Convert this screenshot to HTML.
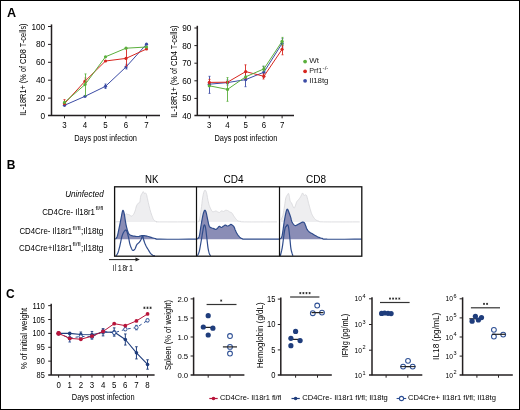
<!DOCTYPE html><html><head><meta charset="utf-8"><style>html,body{margin:0;padding:0;background:#fff;}svg{display:block;will-change:transform;font-variant-ligatures:none;font-family:"Liberation Sans", sans-serif;}</style></head><body>
<svg width="520" height="410" viewBox="0 0 520 410">
<rect x="0.5" y="0.5" width="519" height="409" fill="#fff" stroke="#000" stroke-width="1"/>
<text x="6.9" y="16.6" font-size="12.6" fill="#000" font-weight="bold" >A</text>
<text x="6.8" y="168.7" font-size="12.0" fill="#000" font-weight="bold" >B</text>
<text x="6.0" y="298.1" font-size="12.0" fill="#000" font-weight="bold" >C</text>
<line x1="51.5" y1="24.4" x2="51.5" y2="116" stroke="#231f20" stroke-width="1.5" />
<line x1="48" y1="115.6" x2="160" y2="115.6" stroke="#231f20" stroke-width="1.5" />
<line x1="48" y1="26.5" x2="51.5" y2="26.5" stroke="#231f20" stroke-width="1" />
<text x="45.2" y="29.5" font-size="9.4" text-anchor="end" textLength="13.799999999999999" lengthAdjust="spacingAndGlyphs" >100</text>
<line x1="48" y1="44.400000000000006" x2="51.5" y2="44.400000000000006" stroke="#231f20" stroke-width="1" />
<text x="45.2" y="47.400000000000006" font-size="9.4" text-anchor="end" textLength="9.2" lengthAdjust="spacingAndGlyphs" >80</text>
<line x1="48" y1="62.3" x2="51.5" y2="62.3" stroke="#231f20" stroke-width="1" />
<text x="45.2" y="65.3" font-size="9.4" text-anchor="end" textLength="9.2" lengthAdjust="spacingAndGlyphs" >60</text>
<line x1="48" y1="80.2" x2="51.5" y2="80.2" stroke="#231f20" stroke-width="1" />
<text x="45.2" y="83.2" font-size="9.4" text-anchor="end" textLength="9.2" lengthAdjust="spacingAndGlyphs" >40</text>
<line x1="48" y1="98.1" x2="51.5" y2="98.1" stroke="#231f20" stroke-width="1" />
<text x="45.2" y="101.1" font-size="9.4" text-anchor="end" textLength="9.2" lengthAdjust="spacingAndGlyphs" >20</text>
<text x="45.2" y="119.0" font-size="9.4" text-anchor="end" textLength="4.6" lengthAdjust="spacingAndGlyphs" >0</text>
<line x1="64.5" y1="115.6" x2="64.5" y2="118.3" stroke="#231f20" stroke-width="1" />
<text x="64.5" y="128.3" font-size="9.6" text-anchor="middle" textLength="4.4" lengthAdjust="spacingAndGlyphs" >3</text>
<line x1="85.0" y1="115.6" x2="85.0" y2="118.3" stroke="#231f20" stroke-width="1" />
<text x="85.0" y="128.3" font-size="9.6" text-anchor="middle" textLength="4.4" lengthAdjust="spacingAndGlyphs" >4</text>
<line x1="105.5" y1="115.6" x2="105.5" y2="118.3" stroke="#231f20" stroke-width="1" />
<text x="105.5" y="128.3" font-size="9.6" text-anchor="middle" textLength="4.4" lengthAdjust="spacingAndGlyphs" >5</text>
<line x1="126.0" y1="115.6" x2="126.0" y2="118.3" stroke="#231f20" stroke-width="1" />
<text x="126.0" y="128.3" font-size="9.6" text-anchor="middle" textLength="4.4" lengthAdjust="spacingAndGlyphs" >6</text>
<line x1="146.5" y1="115.6" x2="146.5" y2="118.3" stroke="#231f20" stroke-width="1" />
<text x="146.5" y="128.3" font-size="9.6" text-anchor="middle" textLength="4.4" lengthAdjust="spacingAndGlyphs" >7</text>
<text x="74.2" y="141.3" font-size="9.6" textLength="62.8" lengthAdjust="spacingAndGlyphs" >Days post infection</text>
<text x="0" y="0" font-size="9.3" text-anchor="middle" transform="translate(26.1,69.6) rotate(-90)" textLength="92.3" lengthAdjust="spacingAndGlyphs">IL-18R1+ (% of CD8 T-cells)</text>
<polyline points="64.50,105.30 85.00,96.30 105.50,86.30 126.00,67.00 146.50,44.20" fill="none" stroke="#3b4ba5" stroke-width="1.0" stroke-linejoin="round" />
<line x1="105.5" y1="84.0" x2="105.5" y2="88.5" stroke="#3b4ba5" stroke-width="0.9" />
<line x1="104.5" y1="84.0" x2="106.5" y2="84.0" stroke="#3b4ba5" stroke-width="0.8" />
<line x1="104.5" y1="88.5" x2="106.5" y2="88.5" stroke="#3b4ba5" stroke-width="0.8" />
<line x1="126.5" y1="64.3" x2="126.5" y2="69.0" stroke="#3b4ba5" stroke-width="0.9" />
<line x1="125.5" y1="64.3" x2="127.5" y2="64.3" stroke="#3b4ba5" stroke-width="0.8" />
<line x1="125.5" y1="69.0" x2="127.5" y2="69.0" stroke="#3b4ba5" stroke-width="0.8" />
<circle cx="64.50" cy="105.30" r="1.6" fill="#3b4ba5"/>
<circle cx="85.00" cy="96.30" r="1.6" fill="#3b4ba5"/>
<circle cx="105.50" cy="86.30" r="1.6" fill="#3b4ba5"/>
<circle cx="126.00" cy="67.00" r="1.6" fill="#3b4ba5"/>
<circle cx="146.50" cy="44.20" r="1.6" fill="#3b4ba5"/>
<polyline points="64.50,103.60 85.00,81.20 105.50,61.00 126.00,58.40 146.50,49.00" fill="none" stroke="#d7261f" stroke-width="1.0" stroke-linejoin="round" />
<line x1="64.5" y1="99.6" x2="64.5" y2="104" stroke="#d7261f" stroke-width="0.9" />
<line x1="63.5" y1="99.6" x2="65.5" y2="99.6" stroke="#d7261f" stroke-width="0.8" />
<line x1="63.5" y1="104" x2="65.5" y2="104" stroke="#d7261f" stroke-width="0.8" />
<line x1="85.5" y1="78" x2="85.5" y2="84" stroke="#d7261f" stroke-width="0.9" />
<line x1="84.5" y1="78" x2="86.5" y2="78" stroke="#d7261f" stroke-width="0.8" />
<line x1="84.5" y1="84" x2="86.5" y2="84" stroke="#d7261f" stroke-width="0.8" />
<line x1="126.5" y1="48.2" x2="126.5" y2="66.0" stroke="#d7261f" stroke-width="0.9" />
<line x1="125.5" y1="48.2" x2="127.5" y2="48.2" stroke="#d7261f" stroke-width="0.8" />
<line x1="125.5" y1="66.0" x2="127.5" y2="66.0" stroke="#d7261f" stroke-width="0.8" />
<circle cx="64.50" cy="103.60" r="1.6" fill="#d7261f"/>
<circle cx="85.00" cy="81.20" r="1.6" fill="#d7261f"/>
<circle cx="105.50" cy="61.00" r="1.6" fill="#d7261f"/>
<circle cx="126.00" cy="58.40" r="1.6" fill="#d7261f"/>
<circle cx="146.50" cy="49.00" r="1.6" fill="#d7261f"/>
<polyline points="64.50,102.40 85.00,84.60 105.50,56.80 126.00,48.20 146.50,47.00" fill="none" stroke="#5aaf3c" stroke-width="1.0" stroke-linejoin="round" />
<line x1="85.5" y1="73.9" x2="85.5" y2="95.6" stroke="#5aaf3c" stroke-width="0.9" />
<line x1="84.5" y1="73.9" x2="86.5" y2="73.9" stroke="#5aaf3c" stroke-width="0.8" />
<line x1="84.5" y1="95.6" x2="86.5" y2="95.6" stroke="#5aaf3c" stroke-width="0.8" />
<circle cx="64.50" cy="102.40" r="1.6" fill="#5aaf3c"/>
<circle cx="85.00" cy="84.60" r="1.6" fill="#5aaf3c"/>
<circle cx="105.50" cy="56.80" r="1.6" fill="#5aaf3c"/>
<circle cx="126.00" cy="48.20" r="1.6" fill="#5aaf3c"/>
<circle cx="146.50" cy="47.00" r="1.6" fill="#5aaf3c"/>
<line x1="197.3" y1="25.8" x2="197.3" y2="115.7" stroke="#231f20" stroke-width="1.5" />
<line x1="194.4" y1="115.6" x2="294" y2="115.6" stroke="#231f20" stroke-width="1.5" />
<line x1="194.4" y1="28.0" x2="197.3" y2="28.0" stroke="#231f20" stroke-width="1" />
<text x="191.4" y="31.0" font-size="9.4" text-anchor="end" textLength="9.2" lengthAdjust="spacingAndGlyphs" >90</text>
<line x1="194.4" y1="45.599999999999994" x2="197.3" y2="45.599999999999994" stroke="#231f20" stroke-width="1" />
<text x="191.4" y="48.599999999999994" font-size="9.4" text-anchor="end" textLength="9.2" lengthAdjust="spacingAndGlyphs" >80</text>
<line x1="194.4" y1="63.2" x2="197.3" y2="63.2" stroke="#231f20" stroke-width="1" />
<text x="191.4" y="66.2" font-size="9.4" text-anchor="end" textLength="9.2" lengthAdjust="spacingAndGlyphs" >70</text>
<line x1="194.4" y1="80.8" x2="197.3" y2="80.8" stroke="#231f20" stroke-width="1" />
<text x="191.4" y="83.8" font-size="9.4" text-anchor="end" textLength="9.2" lengthAdjust="spacingAndGlyphs" >60</text>
<line x1="194.4" y1="98.4" x2="197.3" y2="98.4" stroke="#231f20" stroke-width="1" />
<text x="191.4" y="101.4" font-size="9.4" text-anchor="end" textLength="9.2" lengthAdjust="spacingAndGlyphs" >50</text>
<text x="191.4" y="119.0" font-size="9.4" text-anchor="end" textLength="9.2" lengthAdjust="spacingAndGlyphs" >40</text>
<line x1="209.3" y1="115.6" x2="209.3" y2="118.3" stroke="#231f20" stroke-width="1" />
<text x="209.3" y="128.3" font-size="9.6" text-anchor="middle" textLength="4.4" lengthAdjust="spacingAndGlyphs" >3</text>
<line x1="227.5" y1="115.6" x2="227.5" y2="118.3" stroke="#231f20" stroke-width="1" />
<text x="227.5" y="128.3" font-size="9.6" text-anchor="middle" textLength="4.4" lengthAdjust="spacingAndGlyphs" >4</text>
<line x1="245.7" y1="115.6" x2="245.7" y2="118.3" stroke="#231f20" stroke-width="1" />
<text x="245.7" y="128.3" font-size="9.6" text-anchor="middle" textLength="4.4" lengthAdjust="spacingAndGlyphs" >5</text>
<line x1="263.9" y1="115.6" x2="263.9" y2="118.3" stroke="#231f20" stroke-width="1" />
<text x="263.9" y="128.3" font-size="9.6" text-anchor="middle" textLength="4.4" lengthAdjust="spacingAndGlyphs" >6</text>
<line x1="282.1" y1="115.6" x2="282.1" y2="118.3" stroke="#231f20" stroke-width="1" />
<text x="282.1" y="128.3" font-size="9.6" text-anchor="middle" textLength="4.4" lengthAdjust="spacingAndGlyphs" >7</text>
<text x="214.5" y="141.3" font-size="9.6" textLength="62.8" lengthAdjust="spacingAndGlyphs" >Days post infection</text>
<text x="0" y="0" font-size="9.3" text-anchor="middle" transform="translate(176.6,71.6) rotate(-90)" textLength="92.3" lengthAdjust="spacingAndGlyphs">IL-18R1+ (% of CD4 T-cells)</text>
<polyline points="209.30,84.20 227.50,82.60 245.70,79.60 263.90,72.20 282.10,43.40" fill="none" stroke="#3b4ba5" stroke-width="1.0" stroke-linejoin="round" />
<line x1="209.5" y1="76.3" x2="209.5" y2="93.4" stroke="#3b4ba5" stroke-width="0.9" />
<line x1="208.5" y1="76.3" x2="210.5" y2="76.3" stroke="#3b4ba5" stroke-width="0.8" />
<line x1="208.5" y1="93.4" x2="210.5" y2="93.4" stroke="#3b4ba5" stroke-width="0.8" />
<line x1="227.5" y1="80" x2="227.5" y2="85" stroke="#3b4ba5" stroke-width="0.9" />
<line x1="226.5" y1="80" x2="228.5" y2="80" stroke="#3b4ba5" stroke-width="0.8" />
<line x1="226.5" y1="85" x2="228.5" y2="85" stroke="#3b4ba5" stroke-width="0.8" />
<line x1="245.5" y1="72.5" x2="245.5" y2="86.7" stroke="#3b4ba5" stroke-width="0.9" />
<line x1="244.5" y1="72.5" x2="246.5" y2="72.5" stroke="#3b4ba5" stroke-width="0.8" />
<line x1="244.5" y1="86.7" x2="246.5" y2="86.7" stroke="#3b4ba5" stroke-width="0.8" />
<line x1="263.5" y1="66.3" x2="263.5" y2="77" stroke="#3b4ba5" stroke-width="0.9" />
<line x1="262.5" y1="66.3" x2="264.5" y2="66.3" stroke="#3b4ba5" stroke-width="0.8" />
<line x1="262.5" y1="77" x2="264.5" y2="77" stroke="#3b4ba5" stroke-width="0.8" />
<line x1="282.5" y1="38.7" x2="282.5" y2="47" stroke="#3b4ba5" stroke-width="0.9" />
<line x1="281.5" y1="38.7" x2="283.5" y2="38.7" stroke="#3b4ba5" stroke-width="0.8" />
<line x1="281.5" y1="47" x2="283.5" y2="47" stroke="#3b4ba5" stroke-width="0.8" />
<circle cx="209.30" cy="84.20" r="1.6" fill="#3b4ba5"/>
<circle cx="227.50" cy="82.60" r="1.6" fill="#3b4ba5"/>
<circle cx="245.70" cy="79.60" r="1.6" fill="#3b4ba5"/>
<circle cx="263.90" cy="72.20" r="1.6" fill="#3b4ba5"/>
<circle cx="282.10" cy="43.40" r="1.6" fill="#3b4ba5"/>
<polyline points="209.30,82.40 227.50,82.20 245.70,71.60 263.90,76.30 282.10,49.30" fill="none" stroke="#d7261f" stroke-width="1.0" stroke-linejoin="round" />
<line x1="209.5" y1="79.4" x2="209.5" y2="85.5" stroke="#d7261f" stroke-width="0.9" />
<line x1="208.5" y1="79.4" x2="210.5" y2="79.4" stroke="#d7261f" stroke-width="0.8" />
<line x1="208.5" y1="85.5" x2="210.5" y2="85.5" stroke="#d7261f" stroke-width="0.8" />
<line x1="245.5" y1="64.8" x2="245.5" y2="78.5" stroke="#d7261f" stroke-width="0.9" />
<line x1="244.5" y1="64.8" x2="246.5" y2="64.8" stroke="#d7261f" stroke-width="0.8" />
<line x1="244.5" y1="78.5" x2="246.5" y2="78.5" stroke="#d7261f" stroke-width="0.8" />
<line x1="263.5" y1="74" x2="263.5" y2="79" stroke="#d7261f" stroke-width="0.9" />
<line x1="262.5" y1="74" x2="264.5" y2="74" stroke="#d7261f" stroke-width="0.8" />
<line x1="262.5" y1="79" x2="264.5" y2="79" stroke="#d7261f" stroke-width="0.8" />
<line x1="282.5" y1="45.4" x2="282.5" y2="54.8" stroke="#d7261f" stroke-width="0.9" />
<line x1="281.5" y1="45.4" x2="283.5" y2="45.4" stroke="#d7261f" stroke-width="0.8" />
<line x1="281.5" y1="54.8" x2="283.5" y2="54.8" stroke="#d7261f" stroke-width="0.8" />
<circle cx="209.30" cy="82.40" r="1.6" fill="#d7261f"/>
<circle cx="227.50" cy="82.20" r="1.6" fill="#d7261f"/>
<circle cx="245.70" cy="71.60" r="1.6" fill="#d7261f"/>
<circle cx="263.90" cy="76.30" r="1.6" fill="#d7261f"/>
<circle cx="282.10" cy="49.30" r="1.6" fill="#d7261f"/>
<polyline points="209.30,85.80 227.50,89.40 245.70,76.80 263.90,68.90 282.10,41.30" fill="none" stroke="#5aaf3c" stroke-width="1.0" stroke-linejoin="round" />
<line x1="227.5" y1="77.6" x2="227.5" y2="101.3" stroke="#5aaf3c" stroke-width="0.9" />
<line x1="226.5" y1="77.6" x2="228.5" y2="77.6" stroke="#5aaf3c" stroke-width="0.8" />
<line x1="226.5" y1="101.3" x2="228.5" y2="101.3" stroke="#5aaf3c" stroke-width="0.8" />
<line x1="263.5" y1="66.2" x2="263.5" y2="71" stroke="#5aaf3c" stroke-width="0.9" />
<line x1="262.5" y1="66.2" x2="264.5" y2="66.2" stroke="#5aaf3c" stroke-width="0.8" />
<line x1="262.5" y1="71" x2="264.5" y2="71" stroke="#5aaf3c" stroke-width="0.8" />
<line x1="282.5" y1="37.4" x2="282.5" y2="45" stroke="#5aaf3c" stroke-width="0.9" />
<line x1="281.5" y1="37.4" x2="283.5" y2="37.4" stroke="#5aaf3c" stroke-width="0.8" />
<line x1="281.5" y1="45" x2="283.5" y2="45" stroke="#5aaf3c" stroke-width="0.8" />
<circle cx="209.30" cy="85.80" r="1.6" fill="#5aaf3c"/>
<circle cx="227.50" cy="89.40" r="1.6" fill="#5aaf3c"/>
<circle cx="245.70" cy="76.80" r="1.6" fill="#5aaf3c"/>
<circle cx="263.90" cy="68.90" r="1.6" fill="#5aaf3c"/>
<circle cx="282.10" cy="41.30" r="1.6" fill="#5aaf3c"/>
<circle cx="305.10" cy="61.60" r="1.9" fill="#5aaf3c"/>
<circle cx="305.10" cy="71.30" r="1.9" fill="#d7261f"/>
<circle cx="305.10" cy="80.80" r="1.9" fill="#3b4ba5"/>
<text x="309.2" y="63.3" font-size="8.0" fill="#222" >Wt</text>
<text x="309.2" y="73.0" font-size="8.0" textLength="13.1" lengthAdjust="spacingAndGlyphs" fill="#222" >Prf1</text>
<text x="322.6" y="70.4" font-size="5.4" textLength="5.8" lengthAdjust="spacingAndGlyphs" fill="#222" >-/-</text>
<text x="309.2" y="82.7" font-size="8.0" textLength="19.3" lengthAdjust="spacingAndGlyphs" fill="#222" >Il18tg</text>
<text x="103.8" y="197.1" font-size="8.2" text-anchor="end" textLength="38.6" lengthAdjust="spacingAndGlyphs" font-style="italic" >Uninfected</text>
<text x="95.0" y="214.9" font-size="8.2" text-anchor="end" textLength="52.8" lengthAdjust="spacingAndGlyphs" >CD4Cre- Il18r1</text>
<text x="95.5" y="210.3" font-size="5.3" textLength="8.0" lengthAdjust="spacingAndGlyphs" >fl/fl</text>
<text x="19.4" y="234.3" font-size="8.2" textLength="52.8" lengthAdjust="spacingAndGlyphs" >CD4Cre- Il18r1</text>
<text x="72.6" y="229.6" font-size="5.3" textLength="8.0" lengthAdjust="spacingAndGlyphs" >fl/fl</text>
<text x="81.0" y="234.3" font-size="8.2" textLength="22.4" lengthAdjust="spacingAndGlyphs" >;Il18tg</text>
<text x="19.0" y="250.9" font-size="8.2" textLength="53.4" lengthAdjust="spacingAndGlyphs" >CD4Cre+Il18r1</text>
<text x="72.6" y="246.2" font-size="5.3" textLength="8.0" lengthAdjust="spacingAndGlyphs" >fl/fl</text>
<text x="81.0" y="250.9" font-size="8.2" textLength="22.4" lengthAdjust="spacingAndGlyphs" >;Il18tg</text>
<text x="145.0" y="182.5" font-size="10.8" textLength="13.4" lengthAdjust="spacingAndGlyphs" >NK</text>
<text x="223.6" y="182.5" font-size="10.8" textLength="20.0" lengthAdjust="spacingAndGlyphs" >CD4</text>
<text x="306.1" y="182.5" font-size="10.8" textLength="20.0" lengthAdjust="spacingAndGlyphs" >CD8</text>
<path d="M115.40,221.90 L116.06,221.87 L117.01,221.82 L118.06,221.75 L119.00,221.60 L119.80,221.44 L120.57,221.26 L121.30,220.95 L122.00,220.40 L122.68,219.47 L123.33,218.26 L123.94,217.02 L124.50,216.00 L125.02,215.23 L125.49,214.59 L125.92,214.11 L126.30,213.80 L126.59,213.74 L126.80,213.89 L127.01,214.12 L127.30,214.30 L127.68,214.38 L128.12,214.44 L128.60,214.53 L129.10,214.70 L129.65,215.05 L130.24,215.51 L130.84,215.92 L131.40,216.10 L131.91,216.00 L132.38,215.72 L132.84,215.28 L133.30,214.70 L133.77,213.97 L134.23,213.08 L134.68,212.08 L135.10,211.00 L135.47,209.77 L135.79,208.39 L136.12,207.05 L136.50,205.90 L136.95,204.99 L137.45,204.24 L137.95,203.61 L138.40,203.10 L138.80,202.86 L139.16,202.85 L139.50,202.74 L139.80,202.20 L140.04,200.99 L140.24,199.34 L140.44,197.62 L140.70,196.20 L141.07,195.16 L141.50,194.31 L141.93,193.61 L142.30,193.00 L142.57,192.45 L142.78,191.99 L142.97,191.68 L143.20,191.60 L143.47,191.87 L143.77,192.42 L144.08,193.02 L144.40,193.40 L144.75,193.44 L145.12,193.28 L145.48,193.14 L145.80,193.20 L146.06,193.50 L146.28,193.95 L146.48,194.55 L146.70,195.30 L146.94,196.25 L147.17,197.38 L147.43,198.62 L147.70,199.90 L148.00,201.23 L148.32,202.64 L148.66,204.08 L149.00,205.50 L149.33,206.88 L149.66,208.25 L150.01,209.62 L150.40,211.00 L150.84,212.44 L151.33,213.91 L151.82,215.33 L152.30,216.60 L152.73,217.71 L153.14,218.71 L153.58,219.58 L154.10,220.30 L154.73,220.84 L155.44,221.22 L156.18,221.49 L156.90,221.70 L156.83,221.84 L156.26,221.89 L156.70,221.89 L159.70,221.90 L167.11,221.91 L177.62,221.91 L188.05,221.90 L195.20,221.90 L195.20,221.9 L115.40,221.9 Z" fill="#eeeef0" stroke="none"/>
<path d="M115.40,221.90 L116.06,221.87 L117.01,221.82 L118.06,221.75 L119.00,221.60 L119.80,221.44 L120.57,221.26 L121.30,220.95 L122.00,220.40 L122.68,219.47 L123.33,218.26 L123.94,217.02 L124.50,216.00 L125.02,215.23 L125.49,214.59 L125.92,214.11 L126.30,213.80 L126.59,213.74 L126.80,213.89 L127.01,214.12 L127.30,214.30 L127.68,214.38 L128.12,214.44 L128.60,214.53 L129.10,214.70 L129.65,215.05 L130.24,215.51 L130.84,215.92 L131.40,216.10 L131.91,216.00 L132.38,215.72 L132.84,215.28 L133.30,214.70 L133.77,213.97 L134.23,213.08 L134.68,212.08 L135.10,211.00 L135.47,209.77 L135.79,208.39 L136.12,207.05 L136.50,205.90 L136.95,204.99 L137.45,204.24 L137.95,203.61 L138.40,203.10 L138.80,202.86 L139.16,202.85 L139.50,202.74 L139.80,202.20 L140.04,200.99 L140.24,199.34 L140.44,197.62 L140.70,196.20 L141.07,195.16 L141.50,194.31 L141.93,193.61 L142.30,193.00 L142.57,192.45 L142.78,191.99 L142.97,191.68 L143.20,191.60 L143.47,191.87 L143.77,192.42 L144.08,193.02 L144.40,193.40 L144.75,193.44 L145.12,193.28 L145.48,193.14 L145.80,193.20 L146.06,193.50 L146.28,193.95 L146.48,194.55 L146.70,195.30 L146.94,196.25 L147.17,197.38 L147.43,198.62 L147.70,199.90 L148.00,201.23 L148.32,202.64 L148.66,204.08 L149.00,205.50 L149.33,206.88 L149.66,208.25 L150.01,209.62 L150.40,211.00 L150.84,212.44 L151.33,213.91 L151.82,215.33 L152.30,216.60 L152.73,217.71 L153.14,218.71 L153.58,219.58 L154.10,220.30 L154.73,220.84 L155.44,221.22 L156.18,221.49 L156.90,221.70 L156.83,221.84 L156.26,221.89 L156.70,221.89 L159.70,221.90 L167.11,221.91 L177.62,221.91 L188.05,221.90 L195.20,221.90" fill="none" stroke="#d6d6d9" stroke-width="0.8" stroke-linejoin="round"/>
<path d="M115.30,239.20 L115.64,238.85 L116.13,238.37 L116.68,237.63 L117.20,236.50 L117.67,234.85 L118.15,232.78 L118.63,230.49 L119.10,228.20 L119.59,225.84 L120.09,223.33 L120.57,220.89 L121.00,218.70 L121.36,216.78 L121.66,215.02 L121.94,213.51 L122.20,212.30 L122.44,211.39 L122.66,210.75 L122.87,210.41 L123.10,210.40 L123.36,210.74 L123.63,211.41 L123.91,212.37 L124.20,213.60 L124.49,215.22 L124.79,217.20 L125.09,219.28 L125.40,221.20 L125.70,222.90 L126.01,224.52 L126.33,226.08 L126.70,227.60 L127.12,229.16 L127.58,230.72 L128.07,232.14 L128.60,233.30 L129.17,234.11 L129.77,234.66 L130.41,235.05 L131.10,235.40 L131.84,235.70 L132.62,235.91 L133.44,236.07 L134.30,236.20 L135.21,236.34 L136.16,236.46 L137.14,236.52 L138.10,236.50 L139.06,236.33 L140.04,236.06 L140.99,235.78 L141.90,235.60 L142.74,235.56 L143.54,235.60 L144.31,235.69 L145.10,235.80 L145.89,235.93 L146.66,236.09 L147.46,236.28 L148.30,236.50 L149.21,236.77 L150.16,237.08 L151.14,237.40 L152.10,237.70 L153.05,237.98 L154.00,238.24 L154.95,238.49 L155.90,238.70 L156.08,238.87 L155.74,239.01 L156.43,239.12 L159.70,239.20 L167.44,239.24 L178.34,239.23 L189.11,239.21 L196.50,239.20 L196.50,239.2 L115.30,239.2 Z" fill="#8a8db6" stroke="none"/>
<path d="M115.30,239.20 L115.64,238.85 L116.13,238.37 L116.68,237.63 L117.20,236.50 L117.67,234.85 L118.15,232.78 L118.63,230.49 L119.10,228.20 L119.59,225.84 L120.09,223.33 L120.57,220.89 L121.00,218.70 L121.36,216.78 L121.66,215.02 L121.94,213.51 L122.20,212.30 L122.44,211.39 L122.66,210.75 L122.87,210.41 L123.10,210.40 L123.36,210.74 L123.63,211.41 L123.91,212.37 L124.20,213.60 L124.49,215.22 L124.79,217.20 L125.09,219.28 L125.40,221.20 L125.70,222.90 L126.01,224.52 L126.33,226.08 L126.70,227.60 L127.12,229.16 L127.58,230.72 L128.07,232.14 L128.60,233.30 L129.17,234.11 L129.77,234.66 L130.41,235.05 L131.10,235.40 L131.84,235.70 L132.62,235.91 L133.44,236.07 L134.30,236.20 L135.21,236.34 L136.16,236.46 L137.14,236.52 L138.10,236.50 L139.06,236.33 L140.04,236.06 L140.99,235.78 L141.90,235.60 L142.74,235.56 L143.54,235.60 L144.31,235.69 L145.10,235.80 L145.89,235.93 L146.66,236.09 L147.46,236.28 L148.30,236.50 L149.21,236.77 L150.16,237.08 L151.14,237.40 L152.10,237.70 L153.05,237.98 L154.00,238.24 L154.95,238.49 L155.90,238.70 L156.08,238.87 L155.74,239.01 L156.43,239.12 L159.70,239.20 L167.44,239.24 L178.34,239.23 L189.11,239.21 L196.50,239.20" fill="none" stroke="#2e4b8b" stroke-width="1.2" stroke-linejoin="round"/>
<path d="M115.90,255.80 L116.24,255.38 L116.73,254.80 L117.28,254.02 L117.80,253.00 L118.27,251.71 L118.75,250.18 L119.22,248.46 L119.70,246.60 L120.18,244.45 L120.68,242.02 L121.15,239.67 L121.60,237.70 L122.00,236.24 L122.36,235.11 L122.72,234.17 L123.10,233.30 L123.52,232.48 L123.96,231.76 L124.40,231.17 L124.80,230.70 L125.16,230.34 L125.48,230.08 L125.79,229.99 L126.10,230.10 L126.40,230.45 L126.70,230.99 L127.00,231.72 L127.30,232.60 L127.62,233.66 L127.94,234.91 L128.27,236.27 L128.60,237.70 L128.91,239.24 L129.21,240.91 L129.53,242.57 L129.90,244.10 L130.35,245.54 L130.86,246.92 L131.36,248.14 L131.80,249.10 L132.13,249.75 L132.40,250.14 L132.67,250.34 L133.00,250.40 L133.43,250.33 L133.91,250.11 L134.41,249.70 L134.90,249.10 L135.36,248.17 L135.81,246.97 L136.28,245.74 L136.80,244.70 L137.42,243.96 L138.10,243.38 L138.78,242.83 L139.40,242.20 L139.94,241.45 L140.43,240.64 L140.88,239.82 L141.30,239.00 L141.67,238.02 L141.99,236.92 L142.30,236.06 L142.60,235.80 L142.89,236.37 L143.16,237.54 L143.45,238.96 L143.80,240.30 L144.21,241.53 L144.66,242.80 L145.16,244.07 L145.70,245.30 L146.30,246.48 L146.96,247.63 L147.64,248.74 L148.30,249.80 L148.93,250.84 L149.56,251.86 L150.18,252.80 L150.80,253.60 L151.44,254.25 L152.10,254.77 L152.73,255.18 L153.30,255.50 L153.82,255.69 L154.31,255.77 L154.71,255.78 L155.00,255.80" fill="none" stroke="#2e4b8b" stroke-width="1.2" stroke-linejoin="round"/>
<path d="M197.50,221.90 L197.82,221.84 L198.28,221.79 L198.80,221.41 L199.30,220.30 L199.78,218.20 L200.28,215.35 L200.76,212.20 L201.20,209.20 L201.59,206.29 L201.93,203.31 L202.26,200.46 L202.60,198.00 L202.95,195.95 L203.31,194.19 L203.66,192.74 L204.00,191.60 L204.33,190.79 L204.65,190.30 L204.97,190.11 L205.30,190.20 L205.65,190.62 L206.02,191.36 L206.38,192.32 L206.70,193.40 L206.97,194.63 L207.21,196.06 L207.44,197.55 L207.70,199.00 L208.00,200.42 L208.32,201.87 L208.66,203.25 L209.00,204.50 L209.33,205.56 L209.66,206.49 L210.01,207.35 L210.40,208.20 L210.84,209.13 L211.33,210.08 L211.82,210.92 L212.30,211.50 L212.75,211.74 L213.20,211.74 L213.65,211.61 L214.10,211.50 L214.57,211.38 L215.04,211.19 L215.52,211.03 L216.00,211.00 L216.48,211.16 L216.96,211.44 L217.43,211.76 L217.90,212.00 L218.35,212.19 L218.80,212.36 L219.25,212.45 L219.70,212.40 L220.17,212.09 L220.65,211.58 L221.13,211.09 L221.60,210.80 L222.05,210.86 L222.47,211.13 L222.92,211.40 L223.40,211.50 L223.95,211.30 L224.54,210.93 L225.14,210.54 L225.70,210.30 L226.19,210.24 L226.65,210.29 L227.11,210.41 L227.60,210.60 L228.16,210.88 L228.75,211.26 L229.34,211.66 L229.90,212.00 L230.41,212.22 L230.88,212.36 L231.34,212.55 L231.80,212.90 L232.25,213.47 L232.70,214.19 L233.15,214.96 L233.60,215.70 L234.06,216.39 L234.52,217.07 L234.99,217.75 L235.50,218.40 L236.04,219.06 L236.59,219.73 L237.18,220.33 L237.80,220.80 L238.44,221.08 L239.11,221.22 L239.83,221.30 L240.60,221.40 L240.78,221.54 L240.58,221.69 L241.31,221.81 L244.30,221.90 L251.20,221.94 L260.88,221.93 L270.44,221.91 L277.00,221.90 L277.00,221.9 L197.50,221.9 Z" fill="#eeeef0" stroke="none"/>
<path d="M197.50,221.90 L197.82,221.84 L198.28,221.79 L198.80,221.41 L199.30,220.30 L199.78,218.20 L200.28,215.35 L200.76,212.20 L201.20,209.20 L201.59,206.29 L201.93,203.31 L202.26,200.46 L202.60,198.00 L202.95,195.95 L203.31,194.19 L203.66,192.74 L204.00,191.60 L204.33,190.79 L204.65,190.30 L204.97,190.11 L205.30,190.20 L205.65,190.62 L206.02,191.36 L206.38,192.32 L206.70,193.40 L206.97,194.63 L207.21,196.06 L207.44,197.55 L207.70,199.00 L208.00,200.42 L208.32,201.87 L208.66,203.25 L209.00,204.50 L209.33,205.56 L209.66,206.49 L210.01,207.35 L210.40,208.20 L210.84,209.13 L211.33,210.08 L211.82,210.92 L212.30,211.50 L212.75,211.74 L213.20,211.74 L213.65,211.61 L214.10,211.50 L214.57,211.38 L215.04,211.19 L215.52,211.03 L216.00,211.00 L216.48,211.16 L216.96,211.44 L217.43,211.76 L217.90,212.00 L218.35,212.19 L218.80,212.36 L219.25,212.45 L219.70,212.40 L220.17,212.09 L220.65,211.58 L221.13,211.09 L221.60,210.80 L222.05,210.86 L222.47,211.13 L222.92,211.40 L223.40,211.50 L223.95,211.30 L224.54,210.93 L225.14,210.54 L225.70,210.30 L226.19,210.24 L226.65,210.29 L227.11,210.41 L227.60,210.60 L228.16,210.88 L228.75,211.26 L229.34,211.66 L229.90,212.00 L230.41,212.22 L230.88,212.36 L231.34,212.55 L231.80,212.90 L232.25,213.47 L232.70,214.19 L233.15,214.96 L233.60,215.70 L234.06,216.39 L234.52,217.07 L234.99,217.75 L235.50,218.40 L236.04,219.06 L236.59,219.73 L237.18,220.33 L237.80,220.80 L238.44,221.08 L239.11,221.22 L239.83,221.30 L240.60,221.40 L240.78,221.54 L240.58,221.69 L241.31,221.81 L244.30,221.90 L251.20,221.94 L260.88,221.93 L270.44,221.91 L277.00,221.90" fill="none" stroke="#d6d6d9" stroke-width="0.8" stroke-linejoin="round"/>
<path d="M196.50,239.20 L197.00,238.90 L197.73,238.51 L198.52,237.77 L199.20,236.40 L199.73,234.12 L200.20,231.16 L200.64,227.96 L201.10,225.00 L201.58,222.25 L202.07,219.52 L202.55,217.00 L203.00,214.90 L203.42,213.23 L203.82,211.90 L204.21,210.94 L204.60,210.40 L204.98,210.29 L205.35,210.59 L205.72,211.27 L206.10,212.30 L206.49,213.83 L206.89,215.82 L207.30,217.95 L207.70,219.90 L208.09,221.70 L208.48,223.48 L208.88,225.07 L209.30,226.30 L209.74,227.04 L210.19,227.40 L210.68,227.59 L211.20,227.80 L211.79,228.05 L212.42,228.24 L213.07,228.42 L213.70,228.60 L214.30,228.86 L214.89,229.15 L215.46,229.37 L216.00,229.40 L216.49,229.17 L216.94,228.74 L217.38,228.25 L217.80,227.80 L218.21,227.35 L218.59,226.88 L218.98,226.48 L219.40,226.30 L219.85,226.47 L220.33,226.88 L220.82,227.31 L221.30,227.50 L221.77,227.37 L222.23,227.06 L222.70,226.66 L223.20,226.30 L223.74,225.93 L224.31,225.51 L224.88,225.17 L225.40,225.00 L225.86,225.12 L226.27,225.44 L226.67,225.79 L227.10,226.00 L227.56,226.02 L228.04,225.94 L228.52,225.79 L229.00,225.60 L229.47,225.30 L229.95,224.90 L230.43,224.55 L230.90,224.40 L231.39,224.53 L231.89,224.84 L232.37,225.24 L232.80,225.60 L233.15,225.87 L233.44,226.12 L233.71,226.44 L234.00,226.90 L234.30,227.55 L234.61,228.34 L234.93,229.21 L235.30,230.10 L235.72,231.02 L236.18,232.00 L236.67,232.98 L237.20,233.90 L237.77,234.77 L238.37,235.62 L239.01,236.41 L239.70,237.10 L240.44,237.71 L241.22,238.24 L242.04,238.67 L242.90,239.00 L243.13,239.17 L242.95,239.22 L243.70,239.20 L246.70,239.20 L253.63,239.21 L263.34,239.21 L272.93,239.20 L279.50,239.20 L279.50,239.2 L196.50,239.2 Z" fill="#8a8db6" stroke="none"/>
<path d="M196.50,239.20 L197.00,238.90 L197.73,238.51 L198.52,237.77 L199.20,236.40 L199.73,234.12 L200.20,231.16 L200.64,227.96 L201.10,225.00 L201.58,222.25 L202.07,219.52 L202.55,217.00 L203.00,214.90 L203.42,213.23 L203.82,211.90 L204.21,210.94 L204.60,210.40 L204.98,210.29 L205.35,210.59 L205.72,211.27 L206.10,212.30 L206.49,213.83 L206.89,215.82 L207.30,217.95 L207.70,219.90 L208.09,221.70 L208.48,223.48 L208.88,225.07 L209.30,226.30 L209.74,227.04 L210.19,227.40 L210.68,227.59 L211.20,227.80 L211.79,228.05 L212.42,228.24 L213.07,228.42 L213.70,228.60 L214.30,228.86 L214.89,229.15 L215.46,229.37 L216.00,229.40 L216.49,229.17 L216.94,228.74 L217.38,228.25 L217.80,227.80 L218.21,227.35 L218.59,226.88 L218.98,226.48 L219.40,226.30 L219.85,226.47 L220.33,226.88 L220.82,227.31 L221.30,227.50 L221.77,227.37 L222.23,227.06 L222.70,226.66 L223.20,226.30 L223.74,225.93 L224.31,225.51 L224.88,225.17 L225.40,225.00 L225.86,225.12 L226.27,225.44 L226.67,225.79 L227.10,226.00 L227.56,226.02 L228.04,225.94 L228.52,225.79 L229.00,225.60 L229.47,225.30 L229.95,224.90 L230.43,224.55 L230.90,224.40 L231.39,224.53 L231.89,224.84 L232.37,225.24 L232.80,225.60 L233.15,225.87 L233.44,226.12 L233.71,226.44 L234.00,226.90 L234.30,227.55 L234.61,228.34 L234.93,229.21 L235.30,230.10 L235.72,231.02 L236.18,232.00 L236.67,232.98 L237.20,233.90 L237.77,234.77 L238.37,235.62 L239.01,236.41 L239.70,237.10 L240.44,237.71 L241.22,238.24 L242.04,238.67 L242.90,239.00 L243.13,239.17 L242.95,239.22 L243.70,239.20 L246.70,239.20 L253.63,239.21 L263.34,239.21 L272.93,239.20 L279.50,239.20" fill="none" stroke="#2e4b8b" stroke-width="1.2" stroke-linejoin="round"/>
<path d="M197.30,255.80 L197.64,255.18 L198.13,254.33 L198.68,253.16 L199.20,251.60 L199.67,249.52 L200.15,247.00 L200.62,244.25 L201.10,241.50 L201.59,238.59 L202.09,235.49 L202.57,232.54 L203.00,230.10 L203.35,228.20 L203.64,226.68 L203.91,225.59 L204.20,225.00 L204.52,224.91 L204.84,225.29 L205.17,226.16 L205.50,227.50 L205.83,229.51 L206.16,232.13 L206.48,234.98 L206.80,237.70 L207.10,240.34 L207.40,243.03 L207.70,245.59 L208.00,247.80 L208.32,249.61 L208.64,251.14 L208.97,252.42 L209.30,253.50 L209.66,254.37 L210.03,255.01 L210.37,255.47 L210.60,255.80" fill="none" stroke="#2e4b8b" stroke-width="1.2" stroke-linejoin="round"/>
<path d="M280.90,219.80 L281.25,219.14 L281.76,218.22 L282.32,217.06 L282.80,215.70 L283.19,214.10 L283.53,212.27 L283.86,210.27 L284.20,208.20 L284.56,205.87 L284.93,203.31 L285.29,200.89 L285.60,199.00 L285.86,197.82 L286.08,197.11 L286.29,196.65 L286.50,196.20 L286.72,195.75 L286.94,195.41 L287.16,195.12 L287.40,194.80 L287.67,194.35 L287.96,193.84 L288.24,193.45 L288.50,193.40 L288.72,193.75 L288.91,194.39 L289.10,195.24 L289.30,196.20 L289.51,197.39 L289.71,198.81 L289.94,200.20 L290.20,201.30 L290.51,201.95 L290.87,202.31 L291.24,202.62 L291.60,203.10 L291.96,203.85 L292.32,204.75 L292.67,205.65 L293.00,206.40 L293.29,207.05 L293.56,207.65 L293.82,208.07 L294.10,208.20 L294.39,207.96 L294.68,207.42 L294.98,206.70 L295.30,205.90 L295.63,204.95 L295.96,203.84 L296.32,202.73 L296.70,201.80 L297.12,201.15 L297.57,200.66 L298.03,200.21 L298.50,199.70 L298.98,199.09 L299.47,198.44 L299.96,197.78 L300.40,197.10 L300.80,196.38 L301.16,195.62 L301.50,194.90 L301.80,194.30 L302.05,193.79 L302.26,193.33 L302.47,193.04 L302.70,193.00 L302.97,193.39 L303.26,194.10 L303.56,194.84 L303.90,195.30 L304.29,195.35 L304.72,195.16 L305.14,194.92 L305.50,194.80 L305.77,194.80 L305.99,194.85 L306.19,195.00 L306.40,195.30 L306.61,195.75 L306.82,196.33 L307.04,197.07 L307.30,198.00 L307.61,199.21 L307.97,200.65 L308.34,202.17 L308.70,203.60 L309.05,204.92 L309.40,206.21 L309.75,207.47 L310.10,208.70 L310.44,209.91 L310.77,211.09 L311.11,212.22 L311.50,213.30 L311.93,214.31 L312.39,215.26 L312.89,216.16 L313.40,217.00 L313.93,217.80 L314.47,218.54 L315.05,219.22 L315.70,219.80 L316.40,220.26 L317.15,220.63 L317.97,220.93 L318.90,221.20 L319.23,221.44 L319.19,221.64 L320.18,221.79 L323.60,221.90 L331.26,221.95 L341.94,221.94 L352.48,221.92 L359.70,221.90 L359.70,221.9 L280.90,221.9 Z" fill="#eeeef0" stroke="none"/>
<path d="M280.90,219.80 L281.25,219.14 L281.76,218.22 L282.32,217.06 L282.80,215.70 L283.19,214.10 L283.53,212.27 L283.86,210.27 L284.20,208.20 L284.56,205.87 L284.93,203.31 L285.29,200.89 L285.60,199.00 L285.86,197.82 L286.08,197.11 L286.29,196.65 L286.50,196.20 L286.72,195.75 L286.94,195.41 L287.16,195.12 L287.40,194.80 L287.67,194.35 L287.96,193.84 L288.24,193.45 L288.50,193.40 L288.72,193.75 L288.91,194.39 L289.10,195.24 L289.30,196.20 L289.51,197.39 L289.71,198.81 L289.94,200.20 L290.20,201.30 L290.51,201.95 L290.87,202.31 L291.24,202.62 L291.60,203.10 L291.96,203.85 L292.32,204.75 L292.67,205.65 L293.00,206.40 L293.29,207.05 L293.56,207.65 L293.82,208.07 L294.10,208.20 L294.39,207.96 L294.68,207.42 L294.98,206.70 L295.30,205.90 L295.63,204.95 L295.96,203.84 L296.32,202.73 L296.70,201.80 L297.12,201.15 L297.57,200.66 L298.03,200.21 L298.50,199.70 L298.98,199.09 L299.47,198.44 L299.96,197.78 L300.40,197.10 L300.80,196.38 L301.16,195.62 L301.50,194.90 L301.80,194.30 L302.05,193.79 L302.26,193.33 L302.47,193.04 L302.70,193.00 L302.97,193.39 L303.26,194.10 L303.56,194.84 L303.90,195.30 L304.29,195.35 L304.72,195.16 L305.14,194.92 L305.50,194.80 L305.77,194.80 L305.99,194.85 L306.19,195.00 L306.40,195.30 L306.61,195.75 L306.82,196.33 L307.04,197.07 L307.30,198.00 L307.61,199.21 L307.97,200.65 L308.34,202.17 L308.70,203.60 L309.05,204.92 L309.40,206.21 L309.75,207.47 L310.10,208.70 L310.44,209.91 L310.77,211.09 L311.11,212.22 L311.50,213.30 L311.93,214.31 L312.39,215.26 L312.89,216.16 L313.40,217.00 L313.93,217.80 L314.47,218.54 L315.05,219.22 L315.70,219.80 L316.40,220.26 L317.15,220.63 L317.97,220.93 L318.90,221.20 L319.23,221.44 L319.19,221.64 L320.18,221.79 L323.60,221.90 L331.26,221.95 L341.94,221.94 L352.48,221.92 L359.70,221.90" fill="none" stroke="#d6d6d9" stroke-width="0.8" stroke-linejoin="round"/>
<path d="M280.30,239.20 L280.64,238.69 L281.13,237.99 L281.68,236.91 L282.20,235.20 L282.68,232.58 L283.15,229.24 L283.63,225.70 L284.10,222.50 L284.59,219.61 L285.08,216.80 L285.56,214.29 L286.00,212.30 L286.38,210.88 L286.73,209.92 L287.05,209.37 L287.40,209.20 L287.76,209.49 L288.12,210.24 L288.50,211.24 L288.90,212.30 L289.35,213.46 L289.83,214.81 L290.30,216.17 L290.70,217.40 L290.99,218.46 L291.19,219.42 L291.41,220.32 L291.70,221.20 L292.11,222.09 L292.59,222.96 L293.10,223.75 L293.60,224.40 L294.06,224.90 L294.51,225.27 L294.98,225.52 L295.50,225.60 L296.08,225.47 L296.71,225.16 L297.36,224.76 L298.00,224.40 L298.64,224.07 L299.29,223.73 L299.92,223.40 L300.50,223.10 L301.02,222.81 L301.49,222.54 L301.94,222.32 L302.40,222.20 L302.89,222.17 L303.39,222.21 L303.87,222.37 L304.30,222.70 L304.66,223.24 L304.98,223.94 L305.27,224.76 L305.60,225.60 L305.94,226.51 L306.29,227.52 L306.66,228.51 L307.10,229.40 L307.61,230.16 L308.18,230.84 L308.79,231.45 L309.40,232.00 L310.02,232.47 L310.65,232.85 L311.31,233.21 L312.00,233.60 L312.74,234.04 L313.51,234.49 L314.31,234.95 L315.10,235.40 L315.88,235.84 L316.66,236.29 L317.46,236.71 L318.30,237.10 L319.18,237.44 L320.08,237.75 L321.04,238.03 L322.10,238.30 L322.60,238.57 L322.74,238.83 L323.84,239.05 L327.20,239.20 L334.53,239.26 L344.67,239.26 L354.65,239.22 L361.50,239.20 L361.50,239.2 L280.30,239.2 Z" fill="#8a8db6" stroke="none"/>
<path d="M280.30,239.20 L280.64,238.69 L281.13,237.99 L281.68,236.91 L282.20,235.20 L282.68,232.58 L283.15,229.24 L283.63,225.70 L284.10,222.50 L284.59,219.61 L285.08,216.80 L285.56,214.29 L286.00,212.30 L286.38,210.88 L286.73,209.92 L287.05,209.37 L287.40,209.20 L287.76,209.49 L288.12,210.24 L288.50,211.24 L288.90,212.30 L289.35,213.46 L289.83,214.81 L290.30,216.17 L290.70,217.40 L290.99,218.46 L291.19,219.42 L291.41,220.32 L291.70,221.20 L292.11,222.09 L292.59,222.96 L293.10,223.75 L293.60,224.40 L294.06,224.90 L294.51,225.27 L294.98,225.52 L295.50,225.60 L296.08,225.47 L296.71,225.16 L297.36,224.76 L298.00,224.40 L298.64,224.07 L299.29,223.73 L299.92,223.40 L300.50,223.10 L301.02,222.81 L301.49,222.54 L301.94,222.32 L302.40,222.20 L302.89,222.17 L303.39,222.21 L303.87,222.37 L304.30,222.70 L304.66,223.24 L304.98,223.94 L305.27,224.76 L305.60,225.60 L305.94,226.51 L306.29,227.52 L306.66,228.51 L307.10,229.40 L307.61,230.16 L308.18,230.84 L308.79,231.45 L309.40,232.00 L310.02,232.47 L310.65,232.85 L311.31,233.21 L312.00,233.60 L312.74,234.04 L313.51,234.49 L314.31,234.95 L315.10,235.40 L315.88,235.84 L316.66,236.29 L317.46,236.71 L318.30,237.10 L319.18,237.44 L320.08,237.75 L321.04,238.03 L322.10,238.30 L322.60,238.57 L322.74,238.83 L323.84,239.05 L327.20,239.20 L334.53,239.26 L344.67,239.26 L354.65,239.22 L361.50,239.20" fill="none" stroke="#2e4b8b" stroke-width="1.2" stroke-linejoin="round"/>
<path d="M280.30,255.80 L280.64,254.50 L281.13,252.67 L281.68,250.40 L282.20,247.80 L282.69,244.56 L283.19,240.75 L283.67,236.99 L284.10,233.90 L284.45,231.65 L284.75,229.91 L285.02,228.56 L285.30,227.50 L285.59,226.84 L285.88,226.59 L286.15,226.50 L286.40,226.30 L286.61,225.86 L286.79,225.34 L286.97,224.93 L287.20,224.80 L287.49,224.87 L287.82,225.08 L288.16,225.68 L288.50,226.90 L288.83,228.97 L289.16,231.72 L289.48,234.75 L289.80,237.70 L290.09,240.62 L290.36,243.66 L290.65,246.57 L291.00,249.10 L291.47,251.26 L292.02,253.16 L292.54,254.71 L292.90,255.80" fill="none" stroke="#2e4b8b" stroke-width="1.2" stroke-linejoin="round"/>
<rect x="114.6" y="186.8" width="247.2" height="69.4" fill="none" stroke="#111" stroke-width="1.3"/>
<line x1="196.5" y1="186.8" x2="196.5" y2="256.2" stroke="#111" stroke-width="1.2" />
<line x1="279.5" y1="186.8" x2="279.5" y2="256.2" stroke="#111" stroke-width="1.2" />
<line x1="109" y1="259.6" x2="137" y2="259.6" stroke="#222" stroke-width="1.0" />
<path d="M135.5,257.6 L139.8,259.6 L135.5,261.6 Z" fill="#222"/>
<text transform="scale(0.65,1)" x="173.2 177.0 181.4 188.6 193.4 198.8" y="270.8" font-size="9.8" fill="#2a2a2a" stroke="#2a2a2a" stroke-width="0.15">Il18r1</text>
<line x1="51.2" y1="303.8" x2="51.2" y2="375.0" stroke="#231f20" stroke-width="1.5" />
<line x1="48.2" y1="375.0" x2="154.6" y2="375.0" stroke="#231f20" stroke-width="1.5" />
<line x1="48.2" y1="305.65" x2="51.2" y2="305.65" stroke="#231f20" stroke-width="1" />
<line x1="48.2" y1="319.525" x2="51.2" y2="319.525" stroke="#231f20" stroke-width="1" />
<line x1="48.2" y1="333.4" x2="51.2" y2="333.4" stroke="#231f20" stroke-width="1" />
<line x1="48.2" y1="347.275" x2="51.2" y2="347.275" stroke="#231f20" stroke-width="1" />
<line x1="48.2" y1="361.15" x2="51.2" y2="361.15" stroke="#231f20" stroke-width="1" />
<text x="44.8" y="308.65" font-size="9.4" text-anchor="end" textLength="12.299999999999999" lengthAdjust="spacingAndGlyphs" >110</text>
<text x="44.8" y="322.525" font-size="9.4" text-anchor="end" textLength="12.299999999999999" lengthAdjust="spacingAndGlyphs" >105</text>
<text x="44.8" y="336.4" font-size="9.4" text-anchor="end" textLength="12.299999999999999" lengthAdjust="spacingAndGlyphs" >100</text>
<text x="44.8" y="350.275" font-size="9.4" text-anchor="end" textLength="8.2" lengthAdjust="spacingAndGlyphs" >95</text>
<text x="44.8" y="364.15" font-size="9.4" text-anchor="end" textLength="8.2" lengthAdjust="spacingAndGlyphs" >90</text>
<text x="44.8" y="378.025" font-size="9.4" text-anchor="end" textLength="8.2" lengthAdjust="spacingAndGlyphs" >85</text>
<line x1="58.6" y1="375.0" x2="58.6" y2="377.6" stroke="#231f20" stroke-width="1" />
<text x="58.6" y="387.8" font-size="9.0" text-anchor="middle" textLength="4.4" lengthAdjust="spacingAndGlyphs" >0</text>
<line x1="69.72" y1="375.0" x2="69.72" y2="377.6" stroke="#231f20" stroke-width="1" />
<text x="69.72" y="387.8" font-size="9.0" text-anchor="middle" textLength="4.4" lengthAdjust="spacingAndGlyphs" >1</text>
<line x1="80.84" y1="375.0" x2="80.84" y2="377.6" stroke="#231f20" stroke-width="1" />
<text x="80.84" y="387.8" font-size="9.0" text-anchor="middle" textLength="4.4" lengthAdjust="spacingAndGlyphs" >2</text>
<line x1="91.96000000000001" y1="375.0" x2="91.96000000000001" y2="377.6" stroke="#231f20" stroke-width="1" />
<text x="91.96000000000001" y="387.8" font-size="9.0" text-anchor="middle" textLength="4.4" lengthAdjust="spacingAndGlyphs" >3</text>
<line x1="103.08" y1="375.0" x2="103.08" y2="377.6" stroke="#231f20" stroke-width="1" />
<text x="103.08" y="387.8" font-size="9.0" text-anchor="middle" textLength="4.4" lengthAdjust="spacingAndGlyphs" >4</text>
<line x1="114.19999999999999" y1="375.0" x2="114.19999999999999" y2="377.6" stroke="#231f20" stroke-width="1" />
<text x="114.19999999999999" y="387.8" font-size="9.0" text-anchor="middle" textLength="4.4" lengthAdjust="spacingAndGlyphs" >5</text>
<line x1="125.32" y1="375.0" x2="125.32" y2="377.6" stroke="#231f20" stroke-width="1" />
<text x="125.32" y="387.8" font-size="9.0" text-anchor="middle" textLength="4.4" lengthAdjust="spacingAndGlyphs" >6</text>
<line x1="136.44" y1="375.0" x2="136.44" y2="377.6" stroke="#231f20" stroke-width="1" />
<text x="136.44" y="387.8" font-size="9.0" text-anchor="middle" textLength="4.4" lengthAdjust="spacingAndGlyphs" >7</text>
<line x1="147.56" y1="375.0" x2="147.56" y2="377.6" stroke="#231f20" stroke-width="1" />
<text x="147.56" y="387.8" font-size="9.0" text-anchor="middle" textLength="4.4" lengthAdjust="spacingAndGlyphs" >8</text>
<text x="71.8" y="400.2" font-size="9.6" textLength="62.8" lengthAdjust="spacingAndGlyphs" >Days post infection</text>
<text x="0" y="0" font-size="9.6" text-anchor="middle" transform="translate(27.4,338.5) rotate(-90)" textLength="61.5" lengthAdjust="spacingAndGlyphs">% of initial weight</text>
<polyline points="58.60,333.40 69.72,338.12 80.84,336.45 91.96,336.73 103.08,331.46 114.20,332.84 125.32,329.24 136.44,327.57 147.56,320.36" fill="none" stroke="#2d4f94" stroke-width="1.0" stroke-linejoin="round" stroke-dasharray="3,3"/>
<line x1="69.72" y1="334.23249999999996" x2="69.72" y2="342.0025" stroke="#2d4f94" stroke-width="1" />
<line x1="68.42" y1="334.23249999999996" x2="71.02" y2="334.23249999999996" stroke="#2d4f94" stroke-width="0.9" />
<line x1="68.42" y1="342.0025" x2="71.02" y2="342.0025" stroke="#2d4f94" stroke-width="0.9" />
<line x1="80.84" y1="335.06499999999994" x2="80.84" y2="337.84" stroke="#2d4f94" stroke-width="1" />
<line x1="79.54" y1="335.06499999999994" x2="82.14" y2="335.06499999999994" stroke="#2d4f94" stroke-width="0.9" />
<line x1="79.54" y1="337.84" x2="82.14" y2="337.84" stroke="#2d4f94" stroke-width="0.9" />
<line x1="91.96000000000001" y1="334.23249999999996" x2="91.96000000000001" y2="339.2275" stroke="#2d4f94" stroke-width="1" />
<line x1="90.66000000000001" y1="334.23249999999996" x2="93.26" y2="334.23249999999996" stroke="#2d4f94" stroke-width="0.9" />
<line x1="90.66000000000001" y1="339.2275" x2="93.26" y2="339.2275" stroke="#2d4f94" stroke-width="0.9" />
<line x1="103.08" y1="329.23749999999995" x2="103.08" y2="333.67749999999995" stroke="#2d4f94" stroke-width="1" />
<line x1="101.78" y1="329.23749999999995" x2="104.38" y2="329.23749999999995" stroke="#2d4f94" stroke-width="0.9" />
<line x1="101.78" y1="333.67749999999995" x2="104.38" y2="333.67749999999995" stroke="#2d4f94" stroke-width="0.9" />
<line x1="114.19999999999999" y1="330.9025" x2="114.19999999999999" y2="334.78749999999997" stroke="#2d4f94" stroke-width="1" />
<line x1="112.89999999999999" y1="330.9025" x2="115.49999999999999" y2="330.9025" stroke="#2d4f94" stroke-width="0.9" />
<line x1="112.89999999999999" y1="334.78749999999997" x2="115.49999999999999" y2="334.78749999999997" stroke="#2d4f94" stroke-width="0.9" />
<line x1="125.32" y1="327.84999999999997" x2="125.32" y2="330.625" stroke="#2d4f94" stroke-width="1" />
<line x1="124.02" y1="327.84999999999997" x2="126.61999999999999" y2="327.84999999999997" stroke="#2d4f94" stroke-width="0.9" />
<line x1="124.02" y1="330.625" x2="126.61999999999999" y2="330.625" stroke="#2d4f94" stroke-width="0.9" />
<line x1="136.44" y1="325.3525" x2="136.44" y2="329.79249999999996" stroke="#2d4f94" stroke-width="1" />
<line x1="135.14" y1="325.3525" x2="137.74" y2="325.3525" stroke="#2d4f94" stroke-width="0.9" />
<line x1="135.14" y1="329.79249999999996" x2="137.74" y2="329.79249999999996" stroke="#2d4f94" stroke-width="0.9" />
<line x1="147.56" y1="318.96999999999997" x2="147.56" y2="321.74499999999995" stroke="#2d4f94" stroke-width="1" />
<line x1="146.26" y1="318.96999999999997" x2="148.86" y2="318.96999999999997" stroke="#2d4f94" stroke-width="0.9" />
<line x1="146.26" y1="321.74499999999995" x2="148.86" y2="321.74499999999995" stroke="#2d4f94" stroke-width="0.9" />
<polyline points="58.60,333.40 69.72,333.40 80.84,334.51 91.96,334.79 103.08,332.29 114.20,332.01 125.32,339.50 136.44,352.82 147.56,364.48" fill="none" stroke="#1f3d7c" stroke-width="1.1" stroke-linejoin="round" />
<line x1="80.84" y1="332.0125" x2="80.84" y2="337.0075" stroke="#1f3d7c" stroke-width="1" />
<line x1="79.54" y1="332.0125" x2="82.14" y2="332.0125" stroke="#1f3d7c" stroke-width="0.9" />
<line x1="79.54" y1="337.0075" x2="82.14" y2="337.0075" stroke="#1f3d7c" stroke-width="0.9" />
<line x1="91.96000000000001" y1="331.4575" x2="91.96000000000001" y2="338.1175" stroke="#1f3d7c" stroke-width="1" />
<line x1="90.66000000000001" y1="331.4575" x2="93.26" y2="331.4575" stroke="#1f3d7c" stroke-width="0.9" />
<line x1="90.66000000000001" y1="338.1175" x2="93.26" y2="338.1175" stroke="#1f3d7c" stroke-width="0.9" />
<line x1="103.08" y1="328.68249999999995" x2="103.08" y2="335.8975" stroke="#1f3d7c" stroke-width="1" />
<line x1="101.78" y1="328.68249999999995" x2="104.38" y2="328.68249999999995" stroke="#1f3d7c" stroke-width="0.9" />
<line x1="101.78" y1="335.8975" x2="104.38" y2="335.8975" stroke="#1f3d7c" stroke-width="0.9" />
<line x1="114.19999999999999" y1="327.84999999999997" x2="114.19999999999999" y2="336.17499999999995" stroke="#1f3d7c" stroke-width="1" />
<line x1="112.89999999999999" y1="327.84999999999997" x2="115.49999999999999" y2="327.84999999999997" stroke="#1f3d7c" stroke-width="0.9" />
<line x1="112.89999999999999" y1="336.17499999999995" x2="115.49999999999999" y2="336.17499999999995" stroke="#1f3d7c" stroke-width="0.9" />
<line x1="125.32" y1="333.955" x2="125.32" y2="345.055" stroke="#1f3d7c" stroke-width="1" />
<line x1="124.02" y1="333.955" x2="126.61999999999999" y2="333.955" stroke="#1f3d7c" stroke-width="0.9" />
<line x1="124.02" y1="345.055" x2="126.61999999999999" y2="345.055" stroke="#1f3d7c" stroke-width="0.9" />
<line x1="136.44" y1="346.71999999999997" x2="136.44" y2="358.93" stroke="#1f3d7c" stroke-width="1" />
<line x1="135.14" y1="346.71999999999997" x2="137.74" y2="346.71999999999997" stroke="#1f3d7c" stroke-width="0.9" />
<line x1="135.14" y1="358.93" x2="137.74" y2="358.93" stroke="#1f3d7c" stroke-width="0.9" />
<line x1="147.56" y1="359.7625" x2="147.56" y2="369.1975" stroke="#1f3d7c" stroke-width="1" />
<line x1="146.26" y1="359.7625" x2="148.86" y2="359.7625" stroke="#1f3d7c" stroke-width="0.9" />
<line x1="146.26" y1="369.1975" x2="148.86" y2="369.1975" stroke="#1f3d7c" stroke-width="0.9" />
<circle cx="58.60" cy="333.40" r="1.8" fill="#1f3d7c"/>
<circle cx="69.72" cy="333.40" r="1.8" fill="#1f3d7c"/>
<circle cx="80.84" cy="334.51" r="1.8" fill="#1f3d7c"/>
<circle cx="91.96" cy="334.79" r="1.8" fill="#1f3d7c"/>
<circle cx="103.08" cy="332.29" r="1.8" fill="#1f3d7c"/>
<circle cx="114.20" cy="332.01" r="1.8" fill="#1f3d7c"/>
<circle cx="125.32" cy="339.50" r="1.8" fill="#1f3d7c"/>
<circle cx="136.44" cy="352.82" r="1.8" fill="#1f3d7c"/>
<circle cx="147.56" cy="364.48" r="1.8" fill="#1f3d7c"/>
<circle cx="58.60" cy="333.40" r="1.7" fill="#fff" stroke="#2d4f94" stroke-width="0.9"/>
<circle cx="69.72" cy="338.12" r="1.7" fill="#fff" stroke="#2d4f94" stroke-width="0.9"/>
<circle cx="80.84" cy="336.45" r="1.7" fill="#fff" stroke="#2d4f94" stroke-width="0.9"/>
<circle cx="91.96" cy="336.73" r="1.7" fill="#fff" stroke="#2d4f94" stroke-width="0.9"/>
<circle cx="103.08" cy="331.46" r="1.7" fill="#fff" stroke="#2d4f94" stroke-width="0.9"/>
<circle cx="114.20" cy="332.84" r="1.7" fill="#fff" stroke="#2d4f94" stroke-width="0.9"/>
<circle cx="125.32" cy="329.24" r="1.7" fill="#fff" stroke="#2d4f94" stroke-width="0.9"/>
<circle cx="136.44" cy="327.57" r="1.7" fill="#fff" stroke="#2d4f94" stroke-width="0.9"/>
<circle cx="147.56" cy="320.36" r="1.7" fill="#fff" stroke="#2d4f94" stroke-width="0.9"/>
<polyline points="58.60,333.40 69.72,338.39 80.84,339.23 91.96,336.17 103.08,331.46 114.20,323.69 125.32,325.63 136.44,320.91 147.56,313.97" fill="none" stroke="#b8143a" stroke-width="1.0" stroke-linejoin="round" />
<circle cx="58.60" cy="333.40" r="1.9" fill="#b8143a"/>
<circle cx="69.72" cy="338.39" r="1.9" fill="#b8143a"/>
<circle cx="80.84" cy="339.23" r="1.9" fill="#b8143a"/>
<circle cx="91.96" cy="336.17" r="1.9" fill="#b8143a"/>
<circle cx="103.08" cy="331.46" r="1.9" fill="#b8143a"/>
<circle cx="114.20" cy="323.69" r="1.9" fill="#b8143a"/>
<circle cx="125.32" cy="325.63" r="1.9" fill="#b8143a"/>
<circle cx="136.44" cy="320.91" r="1.9" fill="#b8143a"/>
<circle cx="147.56" cy="313.97" r="1.9" fill="#b8143a"/>
<circle cx="58.60" cy="333.40" r="2.3" fill="#b8143a"/>
<line x1="193.6" y1="297.4" x2="193.6" y2="375.2" stroke="#231f20" stroke-width="1.5" />
<line x1="190.6" y1="375.1" x2="244.4" y2="375.1" stroke="#231f20" stroke-width="1.5" />
<line x1="190.6" y1="298.9" x2="193.6" y2="298.9" stroke="#231f20" stroke-width="1" />
<line x1="190.6" y1="318" x2="193.6" y2="318" stroke="#231f20" stroke-width="1" />
<line x1="190.6" y1="337" x2="193.6" y2="337" stroke="#231f20" stroke-width="1" />
<line x1="190.6" y1="356" x2="193.6" y2="356" stroke="#231f20" stroke-width="1" />
<text x="188.2" y="301.79999999999995" font-size="7.8" text-anchor="end" textLength="10.8" lengthAdjust="spacingAndGlyphs" >2.0</text>
<text x="188.2" y="320.9" font-size="7.8" text-anchor="end" textLength="10.8" lengthAdjust="spacingAndGlyphs" >1.5</text>
<text x="188.2" y="339.9" font-size="7.8" text-anchor="end" textLength="10.8" lengthAdjust="spacingAndGlyphs" >1.0</text>
<text x="188.2" y="358.9" font-size="7.8" text-anchor="end" textLength="10.8" lengthAdjust="spacingAndGlyphs" >0.5</text>
<text x="188.2" y="378.0" font-size="7.8" text-anchor="end" textLength="10.8" lengthAdjust="spacingAndGlyphs" >0.0</text>
<line x1="208.2" y1="375.1" x2="208.2" y2="377.7" stroke="#231f20" stroke-width="1" />
<line x1="230.0" y1="375.1" x2="230.0" y2="377.7" stroke="#231f20" stroke-width="1" />
<text x="0" y="0" font-size="8.9" text-anchor="middle" transform="translate(171.3,335.0) rotate(-90)" textLength="70.0" lengthAdjust="spacingAndGlyphs">Spleen (% of weight)</text>
<line x1="206.6" y1="304.5" x2="236.5" y2="304.5" stroke="#333" stroke-width="1.2" />
<path d="M221.20,299.50 L221.20,301.70 M222.15,300.05 L220.25,301.15 M222.15,301.15 L220.25,300.05 " stroke="#222" stroke-width="0.7" fill="none"/>
<circle cx="221.20" cy="300.60" r="0.4" fill="#222"/>
<line x1="203.3" y1="327.4" x2="212.9" y2="327.4" stroke="#222" stroke-width="1.2" />
<circle cx="208.20" cy="315.70" r="2.6" fill="#1f3d7c"/>
<circle cx="203.30" cy="327.00" r="2.6" fill="#1f3d7c"/>
<circle cx="212.90" cy="328.20" r="2.6" fill="#1f3d7c"/>
<circle cx="208.20" cy="335.00" r="2.6" fill="#1f3d7c"/>
<circle cx="230.00" cy="336.00" r="2.4" fill="#fff" stroke="#2d4f94" stroke-width="1.05"/>
<circle cx="230.00" cy="346.90" r="2.4" fill="#fff" stroke="#2d4f94" stroke-width="1.05"/>
<circle cx="230.00" cy="353.50" r="2.4" fill="#fff" stroke="#2d4f94" stroke-width="1.05"/>
<line x1="222.9" y1="346.9" x2="237.0" y2="346.9" stroke="#222" stroke-width="1.2" />
<line x1="280.8" y1="297.6" x2="280.8" y2="375.2" stroke="#231f20" stroke-width="1.5" />
<line x1="277.8" y1="375.1" x2="331.8" y2="375.1" stroke="#231f20" stroke-width="1.5" />
<line x1="277.8" y1="299.1" x2="280.8" y2="299.1" stroke="#231f20" stroke-width="1" />
<line x1="277.8" y1="324.5" x2="280.8" y2="324.5" stroke="#231f20" stroke-width="1" />
<line x1="277.8" y1="349.9" x2="280.8" y2="349.9" stroke="#231f20" stroke-width="1" />
<text x="275.4" y="302.0" font-size="9.2" text-anchor="end" textLength="8.4" lengthAdjust="spacingAndGlyphs" >15</text>
<text x="275.4" y="327.4" font-size="9.2" text-anchor="end" textLength="8.4" lengthAdjust="spacingAndGlyphs" >10</text>
<text x="275.4" y="352.79999999999995" font-size="9.2" text-anchor="end" textLength="4.2" lengthAdjust="spacingAndGlyphs" >5</text>
<text x="275.4" y="378.09999999999997" font-size="9.2" text-anchor="end" textLength="4.2" lengthAdjust="spacingAndGlyphs" >0</text>
<line x1="295.6" y1="375.1" x2="295.6" y2="377.7" stroke="#231f20" stroke-width="1" />
<line x1="317.5" y1="375.1" x2="317.5" y2="377.7" stroke="#231f20" stroke-width="1" />
<text x="0" y="0" font-size="9.0" text-anchor="middle" transform="translate(263.4,335.3) rotate(-90)" textLength="66.0" lengthAdjust="spacingAndGlyphs">Hemoglobin (g/dL)</text>
<line x1="290.1" y1="297.0" x2="319.4" y2="297.0" stroke="#333" stroke-width="1.2" />
<path d="M300.30,292.00 L300.30,294.20 M301.25,292.55 L299.35,293.65 M301.25,293.65 L299.35,292.55 " stroke="#222" stroke-width="0.7" fill="none"/>
<circle cx="300.30" cy="293.10" r="0.4" fill="#222"/>
<path d="M303.40,292.00 L303.40,294.20 M304.35,292.55 L302.45,293.65 M304.35,293.65 L302.45,292.55 " stroke="#222" stroke-width="0.7" fill="none"/>
<circle cx="303.40" cy="293.10" r="0.4" fill="#222"/>
<path d="M306.50,292.00 L306.50,294.20 M307.45,292.55 L305.55,293.65 M307.45,293.65 L305.55,292.55 " stroke="#222" stroke-width="0.7" fill="none"/>
<circle cx="306.50" cy="293.10" r="0.4" fill="#222"/>
<path d="M309.60,292.00 L309.60,294.20 M310.55,292.55 L308.65,293.65 M310.55,293.65 L308.65,292.55 " stroke="#222" stroke-width="0.7" fill="none"/>
<circle cx="309.60" cy="293.10" r="0.4" fill="#222"/>
<line x1="290.9" y1="339.4" x2="300.1" y2="339.4" stroke="#222" stroke-width="1.2" />
<circle cx="295.60" cy="331.40" r="2.6" fill="#1f3d7c"/>
<circle cx="290.90" cy="338.30" r="2.6" fill="#1f3d7c"/>
<circle cx="300.10" cy="340.60" r="2.6" fill="#1f3d7c"/>
<circle cx="290.90" cy="345.70" r="2.6" fill="#1f3d7c"/>
<circle cx="317.20" cy="305.50" r="2.4" fill="#fff" stroke="#2d4f94" stroke-width="1.05"/>
<circle cx="312.80" cy="313.20" r="2.4" fill="#fff" stroke="#2d4f94" stroke-width="1.05"/>
<circle cx="322.00" cy="312.60" r="2.4" fill="#fff" stroke="#2d4f94" stroke-width="1.05"/>
<line x1="311.5" y1="312.6" x2="323.5" y2="312.6" stroke="#222" stroke-width="1.2" />
<line x1="372.0" y1="297.3" x2="372.0" y2="375.2" stroke="#231f20" stroke-width="1.5" />
<line x1="369.0" y1="375.1" x2="422.3" y2="375.1" stroke="#231f20" stroke-width="1.5" />
<line x1="369.0" y1="298.8" x2="372.0" y2="298.8" stroke="#231f20" stroke-width="1" />
<line x1="369.0" y1="324.5" x2="372.0" y2="324.5" stroke="#231f20" stroke-width="1" />
<line x1="369.0" y1="350.2" x2="372.0" y2="350.2" stroke="#231f20" stroke-width="1" />
<text x="361.90000000000003" y="301.40000000000003" font-size="7.8" text-anchor="end" textLength="7.4" lengthAdjust="spacingAndGlyphs" >10</text>
<text x="362.40000000000003" y="298.0" font-size="4.9" textLength="3.1" lengthAdjust="spacingAndGlyphs" >4</text>
<text x="361.90000000000003" y="327.1" font-size="7.8" text-anchor="end" textLength="7.4" lengthAdjust="spacingAndGlyphs" >10</text>
<text x="362.40000000000003" y="323.7" font-size="4.9" textLength="3.1" lengthAdjust="spacingAndGlyphs" >3</text>
<text x="361.90000000000003" y="352.8" font-size="7.8" text-anchor="end" textLength="7.4" lengthAdjust="spacingAndGlyphs" >10</text>
<text x="362.40000000000003" y="349.4" font-size="4.9" textLength="3.1" lengthAdjust="spacingAndGlyphs" >2</text>
<text x="361.90000000000003" y="377.90000000000003" font-size="7.8" text-anchor="end" textLength="7.4" lengthAdjust="spacingAndGlyphs" >10</text>
<text x="362.40000000000003" y="374.5" font-size="4.9" textLength="3.1" lengthAdjust="spacingAndGlyphs" >1</text>
<line x1="386.1" y1="375.1" x2="386.1" y2="377.7" stroke="#231f20" stroke-width="1" />
<line x1="407.8" y1="375.1" x2="407.8" y2="377.7" stroke="#231f20" stroke-width="1" />
<text x="0" y="0" font-size="8.9" text-anchor="middle" transform="translate(348.0,335.5) rotate(-90)" textLength="43.5" lengthAdjust="spacingAndGlyphs">IFNg (pg/mL)</text>
<line x1="380.0" y1="302.5" x2="409.6" y2="302.5" stroke="#333" stroke-width="1.2" />
<path d="M390.00,297.50 L390.00,299.70 M390.95,298.05 L389.05,299.15 M390.95,299.15 L389.05,298.05 " stroke="#222" stroke-width="0.7" fill="none"/>
<circle cx="390.00" cy="298.60" r="0.4" fill="#222"/>
<path d="M393.10,297.50 L393.10,299.70 M394.05,298.05 L392.15,299.15 M394.05,299.15 L392.15,298.05 " stroke="#222" stroke-width="0.7" fill="none"/>
<circle cx="393.10" cy="298.60" r="0.4" fill="#222"/>
<path d="M396.20,297.50 L396.20,299.70 M397.15,298.05 L395.25,299.15 M397.15,299.15 L395.25,298.05 " stroke="#222" stroke-width="0.7" fill="none"/>
<circle cx="396.20" cy="298.60" r="0.4" fill="#222"/>
<path d="M399.30,297.50 L399.30,299.70 M400.25,298.05 L398.35,299.15 M400.25,299.15 L398.35,298.05 " stroke="#222" stroke-width="0.7" fill="none"/>
<circle cx="399.30" cy="298.60" r="0.4" fill="#222"/>
<circle cx="381.60" cy="313.40" r="2.6" fill="#1f3d7c"/>
<circle cx="384.60" cy="313.00" r="2.6" fill="#1f3d7c"/>
<circle cx="388.00" cy="313.30" r="2.6" fill="#1f3d7c"/>
<circle cx="391.10" cy="313.60" r="2.6" fill="#1f3d7c"/>
<line x1="403.1" y1="366.6" x2="412.7" y2="366.6" stroke="#222" stroke-width="1.2" />
<circle cx="408.00" cy="360.80" r="2.4" fill="#fff" stroke="#2d4f94" stroke-width="1.05"/>
<circle cx="403.10" cy="366.60" r="2.4" fill="#fff" stroke="#2d4f94" stroke-width="1.05"/>
<circle cx="412.70" cy="366.60" r="2.4" fill="#fff" stroke="#2d4f94" stroke-width="1.05"/>
<line x1="400.3" y1="366.6" x2="415.5" y2="366.6" stroke="#222" stroke-width="1.0" />
<path d="M144.40,306.60 L144.40,309.00 M145.44,307.20 L143.36,308.40 M145.44,308.40 L143.36,307.20 " stroke="#222" stroke-width="0.7" fill="none"/>
<circle cx="144.40" cy="307.80" r="0.4" fill="#222"/>
<path d="M147.50,306.60 L147.50,309.00 M148.54,307.20 L146.46,308.40 M148.54,308.40 L146.46,307.20 " stroke="#222" stroke-width="0.7" fill="none"/>
<circle cx="147.50" cy="307.80" r="0.4" fill="#222"/>
<path d="M150.60,306.60 L150.60,309.00 M151.64,307.20 L149.56,308.40 M151.64,308.40 L149.56,307.20 " stroke="#222" stroke-width="0.7" fill="none"/>
<circle cx="150.60" cy="307.80" r="0.4" fill="#222"/>
<line x1="462.6" y1="297.3" x2="462.6" y2="375.2" stroke="#231f20" stroke-width="1.5" />
<line x1="459.6" y1="375.1" x2="512.8" y2="375.1" stroke="#231f20" stroke-width="1.5" />
<line x1="459.6" y1="298.8" x2="462.6" y2="298.8" stroke="#231f20" stroke-width="1" />
<line x1="459.6" y1="317.9" x2="462.6" y2="317.9" stroke="#231f20" stroke-width="1" />
<line x1="459.6" y1="337.0" x2="462.6" y2="337.0" stroke="#231f20" stroke-width="1" />
<line x1="459.6" y1="356.1" x2="462.6" y2="356.1" stroke="#231f20" stroke-width="1" />
<text x="452.90000000000003" y="301.40000000000003" font-size="7.8" text-anchor="end" textLength="7.4" lengthAdjust="spacingAndGlyphs" >10</text>
<text x="453.40000000000003" y="298.0" font-size="4.9" textLength="3.1" lengthAdjust="spacingAndGlyphs" >6</text>
<text x="452.90000000000003" y="320.5" font-size="7.8" text-anchor="end" textLength="7.4" lengthAdjust="spacingAndGlyphs" >10</text>
<text x="453.40000000000003" y="317.09999999999997" font-size="4.9" textLength="3.1" lengthAdjust="spacingAndGlyphs" >5</text>
<text x="452.90000000000003" y="339.6" font-size="7.8" text-anchor="end" textLength="7.4" lengthAdjust="spacingAndGlyphs" >10</text>
<text x="453.40000000000003" y="336.2" font-size="4.9" textLength="3.1" lengthAdjust="spacingAndGlyphs" >4</text>
<text x="452.90000000000003" y="358.70000000000005" font-size="7.8" text-anchor="end" textLength="7.4" lengthAdjust="spacingAndGlyphs" >10</text>
<text x="453.40000000000003" y="355.3" font-size="4.9" textLength="3.1" lengthAdjust="spacingAndGlyphs" >3</text>
<text x="452.90000000000003" y="377.8" font-size="7.8" text-anchor="end" textLength="7.4" lengthAdjust="spacingAndGlyphs" >10</text>
<text x="453.40000000000003" y="374.4" font-size="4.9" textLength="3.1" lengthAdjust="spacingAndGlyphs" >2</text>
<line x1="476.9" y1="375.1" x2="476.9" y2="377.7" stroke="#231f20" stroke-width="1" />
<line x1="498.5" y1="375.1" x2="498.5" y2="377.7" stroke="#231f20" stroke-width="1" />
<text x="0" y="0" font-size="8.9" text-anchor="middle" transform="translate(439.4,336.3) rotate(-90)" textLength="47.2" lengthAdjust="spacingAndGlyphs">IL18 (pg/mL)</text>
<line x1="470.9" y1="307.8" x2="500.0" y2="307.8" stroke="#333" stroke-width="1.2" />
<path d="M484.00,302.80 L484.00,305.00 M484.95,303.35 L483.05,304.45 M484.95,304.45 L483.05,303.35 " stroke="#222" stroke-width="0.7" fill="none"/>
<circle cx="484.00" cy="303.90" r="0.4" fill="#222"/>
<path d="M487.10,302.80 L487.10,305.00 M488.05,303.35 L486.15,304.45 M488.05,304.45 L486.15,303.35 " stroke="#222" stroke-width="0.7" fill="none"/>
<circle cx="487.10" cy="303.90" r="0.4" fill="#222"/>
<line x1="469.3" y1="318.8" x2="481.5" y2="318.8" stroke="#222" stroke-width="1.2" />
<circle cx="472.10" cy="321.20" r="2.6" fill="#1f3d7c"/>
<circle cx="475.40" cy="316.30" r="2.6" fill="#1f3d7c"/>
<circle cx="478.40" cy="320.00" r="2.6" fill="#1f3d7c"/>
<circle cx="481.50" cy="317.60" r="2.6" fill="#1f3d7c"/>
<circle cx="493.90" cy="329.80" r="2.4" fill="#fff" stroke="#2d4f94" stroke-width="1.05"/>
<circle cx="493.90" cy="336.50" r="2.4" fill="#fff" stroke="#2d4f94" stroke-width="1.05"/>
<circle cx="503.20" cy="334.60" r="2.4" fill="#fff" stroke="#2d4f94" stroke-width="1.05"/>
<line x1="492.0" y1="334.3" x2="505.5" y2="334.3" stroke="#222" stroke-width="1.2" />
<line x1="209.3" y1="398.5" x2="217.7" y2="398.5" stroke="#b8143a" stroke-width="1.2" />
<circle cx="213.50" cy="398.50" r="1.8" fill="#b8143a"/>
<text x="220.0" y="399.9" font-size="7.4" textLength="61.4" lengthAdjust="spacingAndGlyphs" >CD4Cre- Il18r1 fl/fl</text>
<line x1="291.5" y1="398.5" x2="299.8" y2="398.5" stroke="#1f3d7c" stroke-width="1.2" />
<circle cx="295.60" cy="398.50" r="1.8" fill="#1f3d7c"/>
<text x="302.2" y="399.9" font-size="7.4" textLength="85.6" lengthAdjust="spacingAndGlyphs" >CD4Cre- Il18r1 fl/fl; Il18tg</text>
<line x1="396.6" y1="398.5" x2="399.4" y2="398.5" stroke="#2d4f94" stroke-width="1.1" />
<line x1="403.6" y1="398.5" x2="406.2" y2="398.5" stroke="#2d4f94" stroke-width="1.1" />
<circle cx="401.50" cy="398.50" r="2.1" fill="#fff" stroke="#2d4f94" stroke-width="1.1"/>
<text x="408.1" y="399.9" font-size="7.4" textLength="87.8" lengthAdjust="spacingAndGlyphs" >CD4Cre+ Il18r1 fl/fl; Il18tg</text>
</svg></body></html>
